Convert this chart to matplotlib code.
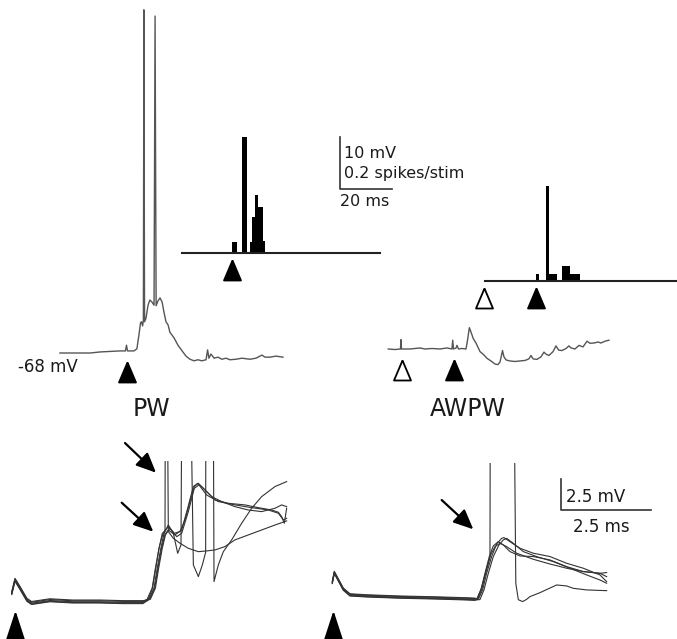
import matplotlib
matplotlib.use("Agg")
import matplotlib.pyplot as plt

W, H = 677, 639

# ---- stimulus times (ms, relative to the principal whisker stimulus) ----
pw_stim = 0.0
aw_stim = -20.0

# ---- top row: single sweeps (ms, mV) ----
pw_trace = [(-25.8, -68.0), (-14.2, -68.0), (-10.4, -67.8), (-2.7, -67.6), (-0.6, -67.6),
            (-0.2, -66.5), (0.2, -67.6), (2.7, -67.6), (3.8, -67.2), (4.6, -64.5),
            (5.2, -62.2), (5.6, -62.0), (6.0, -62.8), (6.3, -61.7), (6.5, -2.0),
            (6.75, -62.0), (7.3, -61.3), (8.1, -58.8), (8.8, -57.8), (9.6, -58.2),
            (10.4, -58.8), (10.8, -3.2), (11.2, -58.9), (11.9, -58.0), (12.7, -57.4),
            (13.5, -58.2), (14.2, -60.1), (15.0, -62.0), (15.8, -62.6), (16.5, -64.0),
            (18.1, -65.1), (19.6, -66.5), (21.2, -67.6), (22.7, -68.6), (24.2, -69.2),
            (25.8, -69.5), (27.3, -69.3), (28.8, -69.5), (30.4, -69.3), (31.0, -67.4),
            (31.5, -69.0), (32.3, -68.2), (33.5, -69.0), (35.0, -68.8), (36.5, -69.2),
            (38.1, -69.0), (39.6, -69.3), (41.9, -69.2), (44.2, -69.0), (47.3, -69.2),
            (49.6, -69.0), (51.9, -68.4), (53.1, -68.8), (55.0, -68.8), (57.3, -68.6),
            (60.0, -68.8)]

awpw_trace = [(-25.1, -68.0), (-22.5, -68.1), (-20.4, -68.0), (-20.2, -66.2), (-20.0, -68.0),
              (-16.7, -68.0), (-12.9, -67.8), (-11.0, -68.0), (-8.3, -67.9), (-5.2, -68.0),
              (-2.5, -67.8), (-0.6, -68.0), (-0.3, -66.3), (0.0, -68.0), (1.0, -67.8),
              (1.35, -67.3), (1.9, -68.0), (3.3, -67.9), (4.8, -68.0), (5.4, -66.3),
              (6.1, -63.9), (6.7, -64.7), (7.6, -66.0), (8.65, -66.85), (10.2, -68.5),
              (11.7, -69.15), (12.9, -69.8), (14.4, -70.3), (16.0, -70.9), (17.1, -71.0),
              (17.9, -70.5), (18.85, -68.3), (19.4, -69.5), (20.2, -70.1), (21.7, -70.3),
              (23.65, -70.4), (25.6, -70.3), (27.5, -70.2), (29.0, -69.9), (29.8, -69.25),
              (30.6, -69.9), (32.1, -70.0), (33.65, -69.5), (34.8, -68.6), (35.6, -69.0),
              (36.7, -69.25), (38.3, -68.5), (39.4, -67.4), (40.4, -68.2), (41.7, -68.3),
              (43.3, -67.9), (44.4, -67.4), (45.2, -67.8), (46.7, -68.0), (48.3, -67.3),
              (49.8, -67.6), (51.35, -66.5), (52.5, -66.9), (54.0, -66.85), (55.6, -66.65),
              (56.7, -66.85), (58.3, -66.5), (59.8, -66.3)]

# ---- PSTHs (1 ms bins, spikes/stim) ----
pw_bins = [0, 1, 4, 5, 7, 8, 9, 10, 11, 12]
pw_counts = [0.042, 0.042, 0.446, 0.446, 0.042, 0.138, 0.223, 0.177, 0.177, 0.046]
pw_window = (-19, 57)

awpw_bins = [0, 4, 5, 6, 7, 10, 11, 12, 13, 14, 15, 16]
awpw_counts = [0.028, 0.365, 0.028, 0.028, 0.028, 0.058, 0.058, 0.058,
               0.028, 0.028, 0.028, 0.028]
awpw_window = (-19.6, 60)

# ---- bottom row: overlaid sweeps (ms, mV from baseline) ----
pw_pre = [(-0.09, 0.78), (0.0, 1.85), (0.14, 1.19), (0.33, 0.24), (0.46, -0.02),
          (0.97, 0.2), (1.6, 0.1), (2.36, 0.1), (3.0, 0.05), (3.55, 0.05)]
pw_offsets = [0.0, 0.08, -0.06, 0.14, -0.1]
pw_sweeps = [
    [(3.72, 0.3), (3.86, 1.2), (3.95, 2.8), (4.05, 4.4), (4.14, 5.6), (4.259, 6.29),
     (4.398, 5.62), (4.519, 4.01), (4.611, 4.68), (4.657, 30), (4.815, 30), (4.954, 3.07),
     (5.093, 2.13), (5.204, 3.07), (5.296, 4.09), (5.306, 30), (5.491, 30), (5.528, 1.73),
     (5.648, 3.07), (5.787, 4.14), (6.019, 5.09), (6.296, 6.43), (6.574, 7.64),
     (6.852, 8.58), (7.222, 9.39), (7.546, 9.79)],
    [(3.70, 0.3), (3.82, 1.2), (3.91, 2.8), (4.00, 4.4), (4.10, 5.5), (4.167, 5.81),
     (4.185, 30), (4.205, 30), (4.259, 5.76), (4.398, 5.22), (4.583, 4.82), (4.815, 4.41),
     (5.093, 4.14), (5.324, 4.20), (5.556, 4.28), (5.833, 4.55), (6.111, 5.09),
     (6.481, 5.49), (6.852, 5.89), (7.222, 6.29), (7.546, 6.62)],
    [(3.67, 0.3), (3.81, 1.2), (3.90, 2.8), (4.00, 4.4), (4.09, 5.6), (4.259, 6.16),
     (4.426, 5.62), (4.583, 5.76), (4.722, 6.70), (4.861, 8.18), (4.981, 9.39),
     (5.093, 9.65), (5.278, 9.12), (5.556, 8.31), (5.926, 8.04), (6.389, 7.91),
     (6.759, 7.69), (7.130, 7.50), (7.315, 7.32), (7.407, 6.97), (7.481, 6.43), (7.546, 7.64)],
    [(3.76, 0.3), (3.90, 1.2), (3.99, 2.8), (4.09, 4.4), (4.18, 5.5), (4.306, 6.03),
     (4.491, 5.35), (4.630, 5.62), (4.815, 7.37), (4.981, 9.25), (5.111, 9.52),
     (5.324, 8.71), (5.648, 8.18), (6.111, 7.91), (6.574, 7.69), (7.037, 7.50),
     (7.315, 7.24), (7.454, 6.70), (7.546, 6.83)],
    [(3.74, 0.3), (3.88, 1.2), (3.97, 2.8), (4.07, 4.4), (4.16, 5.5), (4.259, 5.89),
     (4.444, 5.49), (4.630, 5.89), (4.796, 7.64), (4.954, 9.39), (5.074, 9.65),
     (5.231, 9.25), (5.463, 8.58), (5.741, 8.18), (6.111, 7.77), (6.481, 7.50),
     (6.852, 7.37), (7.222, 7.64), (7.407, 7.91), (7.546, 7.77)],
]

awpw_pre = [(-0.028, 1.08), (0.028, 1.89), (0.139, 1.29), (0.278, 0.54), (0.463, 0.08),
            (0.926, 0.0), (1.852, -0.10), (2.778, -0.16), (3.704, -0.24), (3.935, -0.27)]
awpw_offsets = [0.0, 0.06, -0.05, 0.1, -0.08]
awpw_sweeps = [
    [(3.981, -0.27), (4.102, 0.49), (4.213, 1.83), (4.333, 3.18), (4.444, 4.04),
     (4.583, 4.38), (4.722, 4.12), (4.907, 3.58), (5.185, 3.23), (5.556, 3.18),
     (6.019, 2.91), (6.481, 2.37), (6.944, 1.97), (7.407, 1.83), (7.593, 1.89)],
    [(4.028, -0.27), (4.148, 0.49), (4.259, 1.83), (4.398, 3.18), (4.537, 4.20),
     (4.676, 4.65), (4.741, 4.71), (4.907, 4.38), (5.185, 3.85), (5.556, 3.45),
     (6.019, 3.18), (6.481, 2.64), (6.944, 2.24), (7.407, 1.70), (7.593, 1.16)],
    [(4.074, -0.29), (4.185, 0.49), (4.306, 1.83), (4.444, 3.18), (4.602, 4.12),
     (4.722, 4.52), (4.815, 4.65), (5.0, 4.25), (5.278, 3.58), (5.648, 3.18),
     (6.111, 2.77), (6.574, 2.24), (7.037, 1.70), (7.407, 1.29), (7.593, 1.03)],
    [(4.009, -0.27), (4.130, 0.62), (4.241, 1.97), (4.370, 3.31), (4.491, 3.98),
     (4.630, 4.25), (4.815, 3.98), (5.093, 3.45), (5.556, 2.96), (6.019, 2.58),
     (6.481, 2.24), (6.944, 1.97), (7.407, 1.83), (7.593, 1.56)],
    [(3.991, -0.27), (4.111, 0.62), (4.241, 1.97), (4.333, 2.96), (4.352, 3.18),
     (4.37, 30), (4.98, 30), (5.07, 1.0), (5.14, -0.3), (5.259, -0.45), (5.370, -0.27),
     (5.463, -0.05), (5.741, 0.27), (6.204, 0.89), (6.481, 0.81), (6.667, 0.62),
     (7.037, 0.49), (7.593, 0.43)],
]

# ---- figure ----
fig = plt.figure(figsize=(W / 100, H / 100), dpi=100)
ink = "#1a1a1a"
top_line = "#555555"
low_line = "#333333"
tri = [(0, 1), (-0.85, -1), (0.85, -1), (0, 1)]
tri_big = [(0, 1), (-0.65, -1), (0.65, -1), (0, 1)]


def panel(box, anchor, scale, origin=(0, 0)):
    # box in pixels (left, top, right, bottom); anchor pixel shows value origin
    left, top, right, bottom = box
    ax = fig.add_axes([left / W, 1 - bottom / H, (right - left) / W, (bottom - top) / H])
    ax.set_xlim(origin[0] + (left - anchor[0]) / scale[0],
                origin[0] + (right - anchor[0]) / scale[0])
    ax.set_ylim(origin[1] - (bottom - anchor[1]) / scale[1],
                origin[1] + (anchor[1] - top) / scale[1])
    ax.axis("off")
    ax.patch.set_alpha(0)
    return ax


def label(x, y, s, size, ha="left"):
    fig.text(x / W, 1 - y / H, s, fontsize=size, ha=ha, va="baseline", color=ink)


def stim_marker(ax, t, y, filled=True, big=False):
    ax.plot([t], [y], linestyle="none", marker=tri_big if big else tri,
            markersize=18.7 if big else 14.4,
            markerfacecolor="black" if filled else "white",
            markeredgecolor="black", markeredgewidth=1.3, clip_on=False)


# PW sweep + scale bar
ax = panel((0, 0, W, H), (127, 353), (2.6, 5.2), (0, -68))
ax.plot(*zip(*pw_trace), color=top_line, lw=1.0)
stim_marker(ax, pw_stim, -71.6)
ax.plot([82, 82, 82 + 20], [-36.5 + 10, -36.5, -36.5], color="#333333", lw=1.2)

# PW PSTH
ax = panel((0, 0, W, H), (231.5, 253), (2.6, 260))
ax.bar(pw_bins, pw_counts, width=1.0, align="edge", color="black", linewidth=0)
ax.plot(pw_window, [0, 0], color="#222222", lw=1.5)
stim_marker(ax, pw_stim, -0.067)

# AWPW sweep
ax = panel((0, 0, W, H), (453.5, 349), (2.6, 5.2), (0, -68))
ax.plot(*zip(*awpw_trace), color=top_line, lw=1.0)
stim_marker(ax, aw_stim, -72.0, filled=False)
stim_marker(ax, pw_stim, -72.0)

# AWPW PSTH
ax = panel((0, 0, W, H), (536, 281), (2.6, 260))
ax.bar(awpw_bins, awpw_counts, width=1.0, align="edge", color="black", linewidth=0)
ax.plot(awpw_window, [0, 0], color="#222222", lw=1.5)
stim_marker(ax, aw_stim, -0.064, filled=False)
stim_marker(ax, pw_stim, -0.064)

arrow = dict(arrowstyle="-|>,head_length=1.0,head_width=0.45", color="black",
             lw=1.6, mutation_scale=12, shrinkA=0, shrinkB=0)

# bottom left: PW sweeps expanded
ax = panel((0, 461, 300, H), (15, 603), (36, 12.4))
for sweep, off in zip(pw_sweeps, pw_offsets):
    pre = [(t, v + off) for t, v in pw_pre]
    ax.plot(*zip(*(pre + sweep)), color=low_line, lw=0.8)
stim_marker(ax, pw_stim, -1.86, big=True)
ax.annotate("", xy=(3.917, 10.51), xytext=(3.056, 12.9), arrowprops=arrow,
            annotation_clip=False)
ax.annotate("", xy=(3.842, 5.75), xytext=(2.964, 8.09), arrowprops=arrow,
            annotation_clip=False)

# bottom right: AWPW sweeps expanded + scale bar
ax = panel((310, 463, W, H), (333.3, 596), (36, 12.4))
for sweep, off in zip(awpw_sweeps, awpw_offsets):
    pre = [(t, v + off) for t, v in awpw_pre]
    ax.plot(*zip(*(pre + sweep)), color=low_line, lw=0.8)
stim_marker(ax, pw_stim, -2.42, big=True)
ax.annotate("", xy=(3.889, 5.38), xytext=(3.011, 7.74), arrowprops=arrow,
            annotation_clip=False)
ax.plot([6.317, 6.317, 6.317 + 2.5], [6.935 + 2.5, 6.935, 6.935], color="#333333",
        lw=1.2, clip_on=False)

# text
label(18, 372, "-68 mV", 12)
label(151, 415.5, "PW", 17, ha="center")
label(468, 415.5, "AWPW", 17, ha="center")
label(344, 157.5, "10 mV", 11.5)
label(344, 178.5, "0.2 spikes/stim", 11.5)
label(340, 205.5, "20 ms", 11.5)
label(566, 502, "2.5 mV", 12)
label(601.5, 532, "2.5 ms", 12, ha="center")

fig.savefig("out.png", dpi=100, facecolor="white")
